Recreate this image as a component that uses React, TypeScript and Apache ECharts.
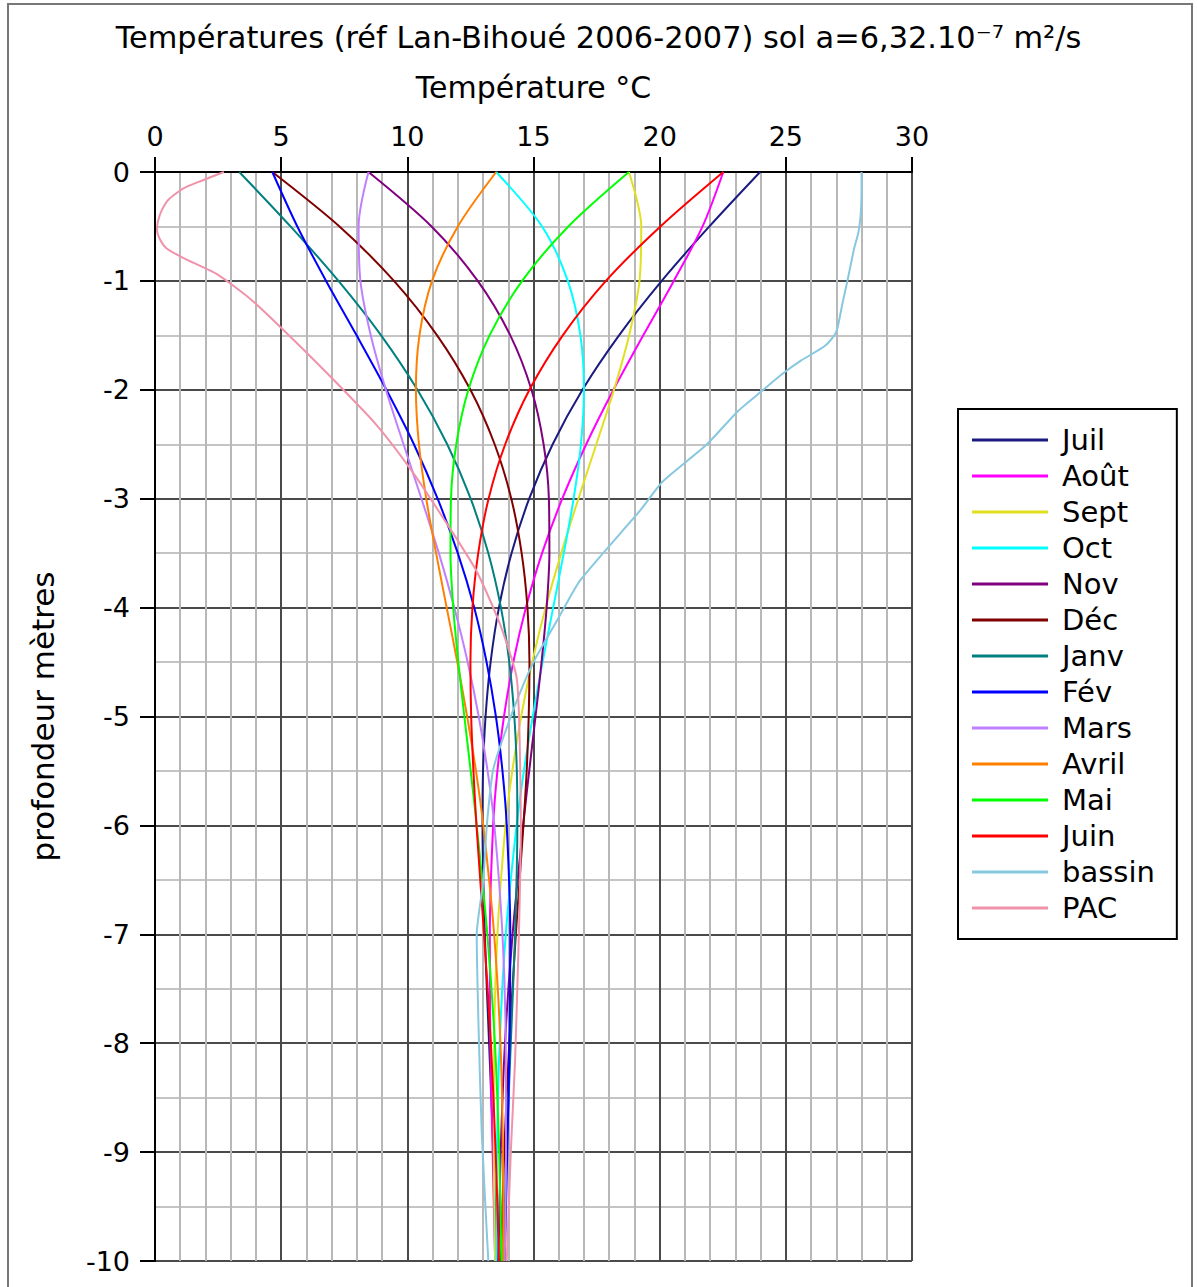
import React, { useEffect, useRef } from "react";
import * as echarts from "echarts";

// Depths (m) for the monthly profiles
const DEPTHS = [0, -0.5, -1, -1.5, -2, -2.5, -3, -3.5, -4, -4.5, -5, -5.5, -6, -7, -8, -9, -10];

// Monthly temperature profiles (°C)
const JUIL = [23.98, 21.97, 20.08, 18.39, 16.94, 15.76, 14.83, 14.13, 13.63, 13.30, 13.10, 13.00, 12.98, 13.07, 13.24, 13.41, 13.54];
const AOUT = [22.52, 21.70, 20.56, 19.35, 18.17, 17.09, 16.14, 15.34, 14.70, 14.20, 13.83, 13.57, 13.40, 13.27, 13.29, 13.38, 13.48];
const SEPT = [18.78, 19.27, 19.20, 18.79, 18.19, 17.49, 16.78, 16.10, 15.48, 14.95, 14.51, 14.16, 13.89, 13.57, 13.44, 13.43, 13.48];
const OCT = [13.52, 15.34, 16.36, 16.86, 17.00, 16.88, 16.59, 16.20, 15.78, 15.36, 14.97, 14.62, 14.33, 13.90, 13.66, 13.55, 13.53];
const NOV = [8.46, 10.96, 12.79, 14.08, 14.92, 15.40, 15.61, 15.63, 15.52, 15.32, 15.08, 14.83, 14.59, 14.17, 13.87, 13.70, 13.61];
const DEC = [4.65, 7.31, 9.47, 11.18, 12.50, 13.46, 14.12, 14.53, 14.76, 14.84, 14.81, 14.73, 14.60, 14.30, 14.04, 13.84, 13.71];
const JANV = [3.34, 5.37, 7.27, 8.96, 10.40, 11.58, 12.51, 13.21, 13.71, 14.04, 14.24, 14.34, 14.36, 14.27, 14.10, 13.93, 13.80];
const FEV = [4.65, 5.64, 6.78, 7.99, 9.17, 10.26, 11.20, 12.00, 12.65, 13.14, 13.51, 13.77, 13.94, 14.08, 14.05, 13.96, 13.86];
const MARS = [8.46, 8.07, 8.14, 8.55, 9.15, 9.85, 10.56, 11.25, 11.86, 12.39, 12.83, 13.18, 13.45, 13.77, 13.90, 13.91, 13.86];
const AVRIL = [13.52, 12.00, 10.98, 10.48, 10.34, 10.46, 10.75, 11.14, 11.56, 11.98, 12.37, 12.72, 13.01, 13.44, 13.69, 13.79, 13.81];
const MAI = [18.78, 16.38, 14.55, 13.26, 12.42, 11.94, 11.73, 11.71, 11.82, 12.02, 12.26, 12.51, 12.75, 13.17, 13.47, 13.64, 13.73];
const JUIN = [22.52, 20.03, 17.87, 16.16, 14.84, 13.88, 13.22, 12.81, 12.58, 12.50, 12.53, 12.62, 12.74, 13.04, 13.31, 13.50, 13.63];

// Pool ("bassin") profile
const BASSIN_DEPTHS = [0, -0.2, -0.38, -0.55, -0.71, -1, -1.2, -1.43, -1.5, -1.6, -1.73, -1.86, -2, -2.19, -2.51, -2.84, -3.11, -3.75, -4.1, -4.51, -4.94, -5.48, -6, -6.51, -7, -7.83, -8.83, -10];
const BASSIN_T = [28.0, 28.0, 27.97, 27.88, 27.7, 27.44, 27.25, 27.05, 26.92, 26.53, 25.61, 24.83, 24.11, 23.13, 21.83, 20.13, 19.22, 16.85, 15.98, 14.98, 14.2, 13.41, 13.15, 13.01, 12.75, 12.82, 12.95, 13.21];

// Heat pump ("PAC") profile
const PAC_DEPTHS = [0, -0.08, -0.15, -0.25, -0.35, -0.45, -0.53, -0.62, -0.7, -0.79, -0.94, -1.17, -1.46, -1.86, -2.31, -2.71, -3.17, -3.66, -4.15, -4.64, -5.2, -6, -6.5, -7, -8.16, -9, -10];
const PAC_T = [2.73, 1.85, 1.13, 0.55, 0.27, 0.12, 0.08, 0.2, 0.45, 1.13, 2.47, 3.8, 5.13, 6.87, 8.73, 10.07, 11.4, 12.73, 13.67, 14.33, 14.45, 14.5, 14.47, 14.42, 14.27, 14.1, 13.94];

const SERIES_NAMES = ["Juil", "Août", "Sept", "Oct", "Nov", "Déc", "Janv", "Fév", "Mars", "Avril", "Mai", "Juin", "bassin", "PAC"];
const SERIES_COLORS = ["#1a1a80", "#ff00ff", "#e0e020", "#00ffff", "#800080", "#800000", "#008080", "#0000ff", "#bf80ff", "#ff8000", "#00ff00", "#ff0000", "#87c8e0", "#f093aa"];

const X_TICKS = [0, 5, 10, 15, 20, 25, 30];
const Y_TICKS = [0, -1, -2, -3, -4, -5, -6, -7, -8, -9, -10];

const FONT = "DejaVu Sans";

export default function App() {
  const ref = useRef<HTMLDivElement>(null);

  useEffect(() => {
    document.body.style.margin = "0";
    if (!ref.current) return;
    const chart = echarts.init(ref.current, undefined, { renderer: "svg" });

    const monthly = [JUIL, AOUT, SEPT, OCT, NOV, DEC, JANV, FEV, MARS, AVRIL, MAI, JUIN];
    const datasets: number[][][] = monthly.map((arr) => arr.map((t, i) => [t, DEPTHS[i]]));
    datasets.push(BASSIN_T.map((t, i) => [t, BASSIN_DEPTHS[i]]));
    datasets.push(PAC_T.map((t, i) => [t, PAC_DEPTHS[i]]));

    const series = datasets.map((data, i) => ({
      name: SERIES_NAMES[i],
      type: "line",
      data,
      showSymbol: false,
      symbol: "none",
      smooth: i >= 12 ? 0.2 : 0.3,
      color: SERIES_COLORS[i],
      itemStyle: { color: SERIES_COLORS[i] },
      lineStyle: { color: SERIES_COLORS[i], width: 2 },
      z: 3,
    }));

    const option: any = {
      animation: false,
      backgroundColor: "#ffffff",
      textStyle: { fontFamily: FONT },
      title: {
        text: "Températures (réf Lan-Bihoué 2006-2007) sol a=6,32.10⁻⁷ m²/s",
        left: "center",
        top: 22,
        padding: 0,
        textStyle: { fontFamily: FONT, fontSize: 30.4, fontWeight: "normal", color: "#000" },
      },
      grid: { left: 155, top: 172, width: 757, height: 1089, containLabel: false },
      xAxis: {
        type: "value",
        position: "top",
        min: X_TICKS[0],
        max: X_TICKS[X_TICKS.length - 1],
        interval: 5,
        name: "Température °C",
        nameLocation: "middle",
        nameGap: 70,
        nameTextStyle: { fontFamily: FONT, fontSize: 30, color: "#000" },
        axisLine: { show: true, onZero: false, lineStyle: { color: "#000", width: 2 } },
        axisTick: { show: true, length: 15, lineStyle: { color: "#000", width: 2 } },
        axisLabel: { fontFamily: FONT, fontSize: 27, color: "#000", margin: 22 },
        splitLine: { show: true, lineStyle: { color: "#4a4a4a", width: 2 } },
        minorTick: { show: false, splitNumber: 5 },
        minorSplitLine: { show: true, lineStyle: { color: "#b8b8b8", width: 2 } },
      },
      yAxis: {
        type: "value",
        min: Y_TICKS[Y_TICKS.length - 1],
        max: Y_TICKS[0],
        interval: 1,
        name: "profondeur mètres",
        nameLocation: "middle",
        nameGap: 97,
        nameTextStyle: { fontFamily: FONT, fontSize: 31, color: "#000" },
        axisLine: { show: true, onZero: false, lineStyle: { color: "#000", width: 2 } },
        axisTick: { show: true, length: 15, lineStyle: { color: "#000", width: 2 } },
        axisLabel: { fontFamily: FONT, fontSize: 27, color: "#000", margin: 25 },
        splitLine: { show: true, lineStyle: { color: "#4a4a4a", width: 2 } },
        minorTick: { show: false, splitNumber: 2 },
        minorSplitLine: { show: true, lineStyle: { color: "#c4c4c4", width: 2 } },
      },
      legend: {
        orient: "vertical",
        left: 958,
        top: 409,
        padding: [13, 22, 13, 14],
        itemGap: 0,
        itemWidth: 76,
        itemHeight: 3,
        icon: "rect",
        borderColor: "#000",
        borderWidth: 2,
        backgroundColor: "#fff",
        data: SERIES_NAMES,
        textStyle: { fontFamily: FONT, fontSize: 29, color: "#000", lineHeight: 36, padding: [0, 0, 0, 9] },
      },
      graphic: [
        {
          type: "rect",
          shape: { x: 8, y: 4, width: 1184, height: 1310 },
          style: { fill: "none", stroke: "#777", lineWidth: 2 },
          silent: true,
          z: 0,
        },
      ],
      series,
    };

    chart.setOption(option);
    return () => chart.dispose();
  }, []);

  return <div ref={ref} style={{ width: 1197, height: 1287 }} />;
}
